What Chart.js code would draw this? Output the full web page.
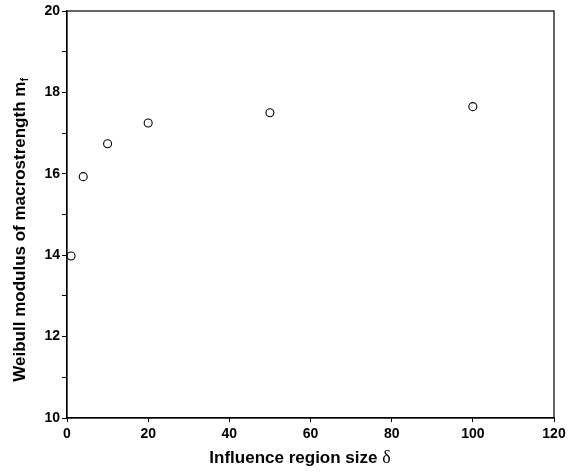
<!DOCTYPE html>
<html>
<head>
<meta charset="utf-8">
<script src="https://cdn.jsdelivr.net/npm/chart.js@4"></script>
<style>
html,body{margin:0;padding:0;background:#fff;}
#wrap{width:574px;height:472px;}
</style>
</head>
<body>
<div id="wrap"><canvas id="c" width="574" height="472"></canvas></div>
<script>
const deltaValues = [1, 4, 10, 20, 50, 100];
const weibullModulus = [13.98, 15.93, 16.74, 17.25, 17.50, 17.65];
const xTitle = 'Influence region size ';
const xTitleSymbol = 'δ';
const yTitle = 'Weibull modulus of macrostrength m';
const yTitleSub = 'f';

const points = deltaValues.map((x, i) => ({x: x, y: weibullModulus[i]}));
const SANS = '"Liberation Sans", Arial, sans-serif';

const framePlugin = {
  id: 'frame',
  afterDraw(chart) {
    const {ctx, chartArea: a} = chart;
    ctx.save();
    ctx.strokeStyle = '#000';
    ctx.lineWidth = 1.2;
    ctx.strokeRect(a.left, a.top, a.right - a.left, a.bottom - a.top);
    // x title
    ctx.fillStyle = '#000';
    ctx.textBaseline = 'middle';
    ctx.font = 'bold 17px ' + SANS;
    const w1 = ctx.measureText(xTitle).width;
    ctx.font = '18px "Liberation Serif", serif';
    const w2 = ctx.measureText(xTitleSymbol).width;
    const cx = 300;
    let sx = cx - (w1 + w2) / 2;
    ctx.font = 'bold 17px ' + SANS;
    ctx.textAlign = 'left';
    ctx.fillText(xTitle, sx, 458);
    ctx.font = '18px "Liberation Serif", serif';
    ctx.fillText(xTitleSymbol, sx + w1, 458);
    // y title
    ctx.translate(20, 230);
    ctx.rotate(-Math.PI / 2);
    ctx.font = 'bold 17px ' + SANS;
    const t1 = ctx.measureText(yTitle).width;
    ctx.font = 'bold 10px ' + SANS;
    const t2 = ctx.measureText(yTitleSub).width;
    const start = -(t1 + t2) / 2;
    ctx.font = 'bold 17px ' + SANS;
    ctx.textAlign = 'left';
    ctx.fillText(yTitle, start, 0);
    ctx.font = 'bold 10px ' + SANS;
    ctx.fillText(yTitleSub, start + t1 + 0.5, 5);
    ctx.restore();
  }
};

new Chart(document.getElementById('c'), {
  type: 'scatter',
  data: {
    datasets: [{
      data: points,
      pointStyle: 'circle',
      pointRadius: 4,
      pointHoverRadius: 4,
      pointBackgroundColor: '#fff',
      pointBorderColor: '#000',
      pointBorderWidth: 1.1,
      showLine: false
    }]
  },
  options: {
    responsive: false,
    animation: false,
    devicePixelRatio: 1,
    layout: {padding: {left: 0, right: 20, top: 11, bottom: 0}},
    plugins: {legend: {display: false}, tooltip: {enabled: false}},
    scales: {
      x: {
        type: 'linear',
        min: 0, max: 120,
        afterFit(s) { s.height = 54; },
        border: {color: '#000', width: 1.2},
        grid: {drawOnChartArea: false, tickLength: 4, color: '#000'},
        ticks: {
          stepSize: 20,
          color: '#000',
          padding: 4,
          font: {family: SANS, size: 14, weight: 'bold'}
        },
        title: {display: false}
      },
      y: {
        type: 'linear',
        min: 10, max: 20,
        afterFit(s) { s.width = 67; },
        border: {color: '#000', width: 1.2},
        grid: {drawOnChartArea: false, tickLength: 5, color: '#000'},
        ticks: {
          stepSize: 1,
          color: '#000',
          padding: 2,
          autoSkip: false,
          font: {family: SANS, size: 14, weight: 'bold'},
          callback: v => (v % 2 === 0 ? String(v) : '')
        },
        title: {display: false}
      }
    }
  },
  plugins: [framePlugin]
});
</script>
</body>
</html>
